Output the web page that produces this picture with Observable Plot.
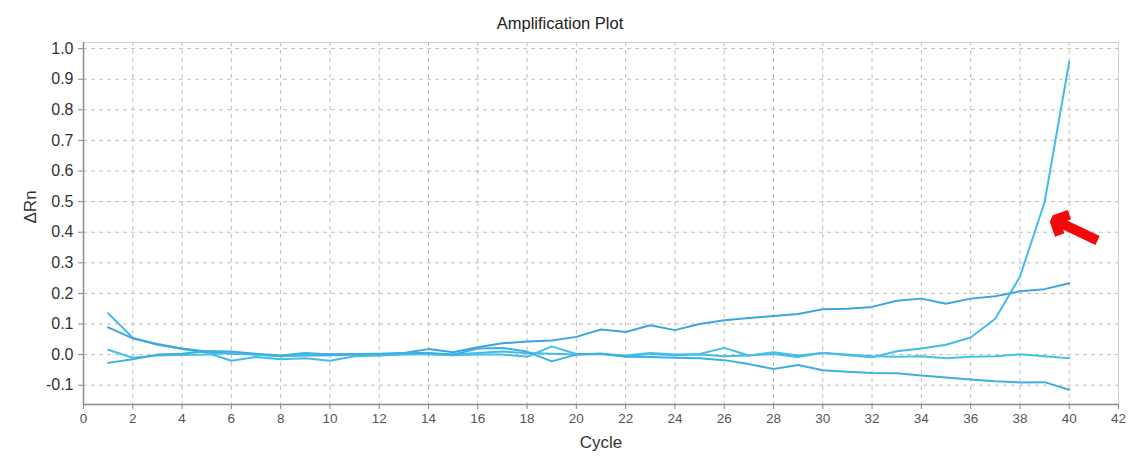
<!DOCTYPE html>
<html>
<head>
<meta charset="utf-8">
<script src="https://cdn.jsdelivr.net/npm/d3@7"></script>
<script src="https://cdn.jsdelivr.net/npm/@observablehq/plot@0.6"></script>
<style>
  html, body { margin: 0; padding: 0; background: #fff; }
  body { width: 1130px; height: 457px; overflow: hidden; font-family: "Liberation Sans", Arial, sans-serif; }
  #title { height: 36px; box-sizing: border-box; padding-top: 15px; padding-right: 10px; font-size: 16.5px; line-height: 1; text-align: center; color: #222; }
  #chart svg { display: block; }
</style>
</head>
<body>
<div id="title">Amplification Plot</div>
<div id="chart"></div>
<script>
// qPCR run: baseline-corrected fluorescence (ΔRn) per cycle for four wells
const cycles = [1, 2, 3, 4, 5, 6, 7, 8, 9, 10, 11, 12, 13, 14, 15, 16, 17, 18, 19, 20,
                21, 22, 23, 24, 25, 26, 27, 28, 29, 30, 31, 32, 33, 34, 35, 36, 37, 38, 39, 40];

const wellNames = ["Well 1", "Well 2", "Well 3", "Well 4"];

// amplifying well (crosses threshold late)
const well1 = [0.135, 0.055, 0.032, 0.018, 0.006, -0.02, -0.008, -0.015, -0.012, -0.02,
               -0.005, -0.003, 0.000, 0.003, 0.000, 0.005, 0.010, 0.005, 0.003, 0.000,
               0.002, -0.005, 0.002, -0.002, 0.000, -0.005, -0.003, 0.002, -0.008, 0.006,
               -0.002, -0.009, 0.011, 0.020, 0.032, 0.056, 0.117, 0.255, 0.498, 0.957];
// drifting baseline
const well2 = [0.089, 0.053, 0.035, 0.020, 0.010, 0.003, 0.000, -0.005, -0.003, -0.002,
               0.000, 0.000, 0.005, 0.018, 0.008, 0.024, 0.037, 0.043, 0.046, 0.058,
               0.082, 0.074, 0.096, 0.080, 0.100, 0.112, 0.120, 0.126, 0.133, 0.148,
               0.150, 0.156, 0.176, 0.183, 0.166, 0.183, 0.191, 0.207, 0.214, 0.233];
// flat
const well3 = [0.016, -0.010, -0.003, -0.001, 0.000, 0.005, 0.000, -0.005, 0.000, 0.002,
               0.000, 0.000, 0.002, 0.000, -0.002, 0.000, 0.000, -0.007, 0.027, 0.002,
               0.002, -0.003, 0.005, 0.000, 0.002, 0.022, -0.003, 0.008, -0.003, 0.005,
               0.000, -0.005, -0.007, -0.005, -0.012, -0.007, -0.005, 0.001, -0.005, -0.012];
// slowly declining
const well4 = [-0.027, -0.015, 0.000, 0.003, 0.012, 0.010, 0.003, -0.003, 0.005, 0.000,
               0.002, 0.003, 0.005, 0.005, 0.000, 0.020, 0.022, 0.010, -0.022, 0.000,
               0.004, -0.007, -0.008, -0.010, -0.012, -0.018, -0.031, -0.047, -0.034, -0.051,
               -0.056, -0.060, -0.061, -0.068, -0.075, -0.081, -0.087, -0.091, -0.090, -0.115];

const wellColors = ["#46bbe9", "#3da6df", "#45c0e9", "#3cafe3"];

const xTicks = [0, 2, 4, 6, 8, 10, 12, 14, 16, 18, 20, 22, 24, 26, 28, 30, 32, 34, 36, 38, 40, 42];
const yTicks = [-0.1, 0.0, 0.1, 0.2, 0.3, 0.4, 0.5, 0.6, 0.7, 0.8, 0.9, 1.0];
const xDomain = [0, 42];
const yDomain = [-0.163, 1.02];

// callout arrow pointing at the rising curve (tail → tip, in cycle / ΔRn units)
const callout = [{x1: 41.15, y1: 0.373, x2: 39.4, y2: 0.44}];

const series = [well1, well2, well3, well4];
const rows = series.flatMap((vals, s) =>
  cycles.map((c, i) => ({cycle: c, dRn: vals[i], well: wellNames[s]})));

const grid = {stroke: "#bdbdbd", strokeOpacity: 1, strokeDasharray: "4,4", strokeWidth: 1};

const chart = Plot.plot({
  width: 1130,
  height: 421,
  marginTop: 6,
  marginBottom: 53,
  marginLeft: 83,
  marginRight: 12,
  style: {fontFamily: "'Liberation Sans', Arial, sans-serif", background: "#fff", overflow: "visible"},
  x: {domain: xDomain},
  y: {domain: yDomain},
  color: {domain: wellNames, range: wellColors},
  marks: [
    Plot.gridX(xTicks, grid),
    Plot.gridY(yTicks, grid),
    Plot.frame({stroke: "#cfcfcf"}),
    Plot.ruleX([xDomain[0]], {stroke: "#8c8c8c", strokeWidth: 1.5}),
    Plot.ruleY([yDomain[0]], {stroke: "#8c8c8c", strokeWidth: 1.5}),
    Plot.axisX(xTicks, {tickSize: 5, tickPadding: 4, fontSize: 13.5, stroke: "#888", fill: "#555", label: null}),
    Plot.axisY(yTicks, {tickSize: 5, tickPadding: 5, fontSize: 16, stroke: "#888", fill: "#333",
                        tickFormat: d => d.toFixed(1), label: null}),
    Plot.lineY(rows, {x: "cycle", y: "dRn", z: "well", stroke: "well", strokeWidth: 2}),
    Plot.text(["Cycle"], {frameAnchor: "bottom", dy: 43, fontSize: 17, fill: "#333"}),
    Plot.text(["ΔRn"], {frameAnchor: "left", dx: -53, rotate: -90, fontSize: 17, fill: "#333"}),
    Plot.arrow(callout, {x1: "x1", y1: "y1", x2: "x2", y2: "y2", stroke: "#f00a0a",
                         strokeWidth: 10, headLength: 8, headAngle: 90,
                         strokeLinejoin: "miter", strokeLinecap: "butt"})
  ]
});

document.getElementById("chart").append(chart);
</script>
</body>
</html>
